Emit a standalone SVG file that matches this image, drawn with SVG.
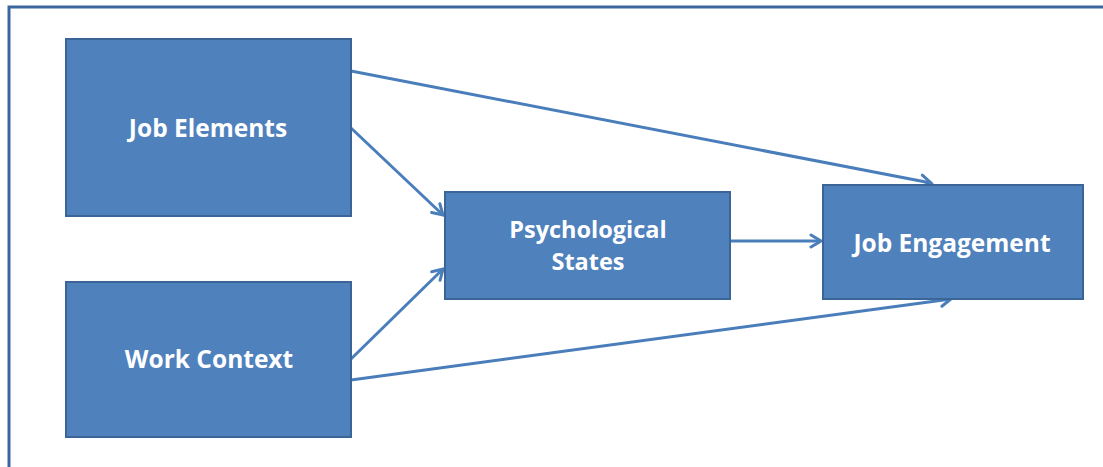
<svg xmlns="http://www.w3.org/2000/svg" width="1103" height="467" viewBox="0 0 1103 467">
<style>
.box{fill:#4f81bd;stroke:#3a6596;stroke-width:2}
.lbl{fill:#ffffff;font-family:"Open Sans","Liberation Sans",sans-serif;font-weight:bold;font-size:24.5px;text-anchor:middle}
.lbl2{font-size:23.5px}
.conn{stroke:#4a7ebb;stroke-width:3;fill:none;marker-end:url(#arr)}
</style>
<defs>
<marker id="arr" markerUnits="userSpaceOnUse" markerWidth="16" markerHeight="16" refX="13" refY="8" orient="auto" viewBox="0 0 16 16">
<path d="M3,2 L13,8 L3,14" fill="none" stroke="#4a7ebb" stroke-width="3" stroke-linecap="round" stroke-linejoin="miter"/>
</marker>
</defs>
<rect width="1103" height="467" fill="#ffffff"/>
<path d="M9,467 V7 H1103" fill="none" stroke="#3d679c" stroke-width="3"/>
<g id="connectors">
<line class="conn" x1="351" y1="71" x2="931" y2="183"/>
<line class="conn" x1="351" y1="128" x2="443" y2="215"/>
<line class="conn" x1="351" y1="359" x2="443" y2="269"/>
<line class="conn" x1="351" y1="380" x2="951" y2="299"/>
<line class="conn" x1="730" y1="241" x2="821" y2="241"/>
</g>
<g id="job-elements">
<rect class="box" x="66" y="39" width="285" height="177"/>
<text class="lbl" x="208" y="137">Job Elements</text>
</g>
<g id="work-context">
<rect class="box" x="66" y="282" width="285" height="155"/>
<text class="lbl" x="209" y="368">Work Context</text>
</g>
<g id="psychological-states">
<rect class="box" x="445" y="192" width="285" height="107"/>
<text class="lbl lbl2" x="588" y="238">Psychological</text>
<text class="lbl lbl2" x="588" y="270">States</text>
</g>
<g id="job-engagement">
<rect class="box" x="823" y="185" width="260" height="114"/>
<text class="lbl" x="952" y="252">Job Engagement</text>
</g>
</svg>
